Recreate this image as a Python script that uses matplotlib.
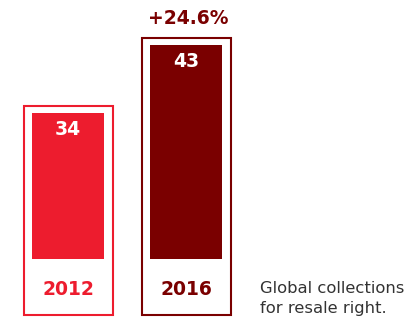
import matplotlib.pyplot as plt
from matplotlib.patches import Rectangle

years = ["2012", "2016"]
values = [34, 43]
growth = "+24.6%"
colors = ["#ED1C2E", "#7A0000"]
note_lines = ["Global collections", "for resale right."]

fig = plt.figure(figsize=(4.08, 3.18), dpi=100)
# axes bottom sits at the bar baseline, frames hang below it
ax = fig.add_axes([0, 59 / 318, 1, 259 / 318])
ax.set_xlim(-0.576, 2.881)
ax.set_ylim(14.68, 48.96)
ax.axis("off")

x = list(range(len(values)))
ax.bar(x, values, width=0.61, color=colors, zorder=2)

for xi, v, yr, c in zip(x, values, years, colors):
    box = Rectangle((xi - 0.376, 7.25), 0.76, v + 0.95 - 7.25,
                    fill=False, edgecolor=c, linewidth=1.5, clip_on=False, zorder=3)
    ax.add_patch(box)
    ax.text(xi, v - 2.2, str(v), ha="center", va="center", color="white",
            fontsize=13.5, fontweight="bold", zorder=4)
    ax.text(xi, 10.65, yr, ha="center", va="center", color=c,
            fontsize=13.5, fontweight="bold", zorder=4)

ax.text(x[1] + 0.02, 46.5, growth, ha="center", va="center", color=colors[1],
        fontsize=13.5, fontweight="bold")

# note in two lines, baselines at 293 and 313 px from the top
for i, line in enumerate(note_lines):
    fig.text(260 / 408, 1 - (293 + 20 * i) / 318, line, ha="left", va="baseline",
             color="#333333", fontsize=11.8)

fig.savefig("out.png", dpi=100, facecolor="white")
